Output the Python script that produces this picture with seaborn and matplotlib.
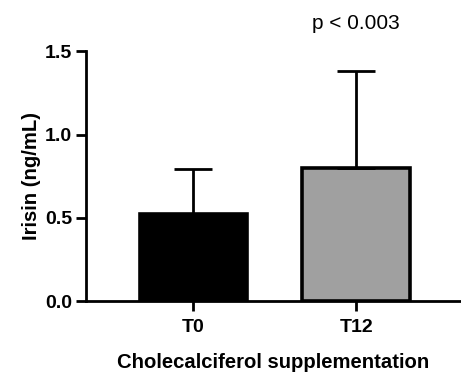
import matplotlib
matplotlib.use("Agg")

import matplotlib.pyplot as plt
import seaborn as sns
import numpy as np
import pandas as pd

# data
groups = ["T0", "T12"]
means = [0.52, 0.80]
sd_upper = [0.27, 0.58]
bar_colors = ["#000000", "#a0a0a0"]
p_label = "p < 0.003"

sns.set_theme(style="white")
plt.rcParams["font.family"] = ["Liberation Sans", "DejaVu Sans"]
plt.rcParams["text.color"] = "black"
plt.rcParams["axes.labelcolor"] = "black"
plt.rcParams["xtick.color"] = "black"
plt.rcParams["ytick.color"] = "black"

df = pd.DataFrame({"group": groups, "irisin": means})

fig = plt.figure(figsize=(4.61, 3.74), dpi=100)
ax = fig.add_axes([0.1866, 0.195, 0.8134, 0.668])

sns.barplot(data=df, x="group", y="irisin", hue="group", palette=bar_colors,
            width=0.66, edgecolor="black", linewidth=2.6, legend=False, ax=ax)

x = np.arange(len(groups))
ax.errorbar(x, means, yerr=[np.zeros(len(means)), sd_upper], fmt="none",
            ecolor="black", elinewidth=2, capsize=13.5, capthick=2, zorder=1)

ax.set_xlim(-0.66, 1.645)
ax.set_ylim(0, 1.5)
ax.set_yticks([0.0, 0.5, 1.0, 1.5])
ax.set_yticklabels(["0.0", "0.5", "1.0", "1.5"])

for side in ["top", "right"]:
    ax.spines[side].set_visible(False)
for side in ["left", "bottom"]:
    ax.spines[side].set_linewidth(2)
    ax.spines[side].set_color("black")

ax.tick_params(axis="both", direction="out", length=7, width=2, color="black",
               labelsize=14, pad=3, bottom=True, left=True)
ax.tick_params(axis="x", pad=6)
for lbl in ax.get_xticklabels() + ax.get_yticklabels():
    lbl.set_fontweight("bold")

ax.set_xlabel("Cholecalciferol supplementation", fontsize=14.6, fontweight="bold",
              labelpad=12)
ax.set_ylabel("Irisin (ng/mL)", fontsize=14.6, fontweight="bold", labelpad=3)

ax.text(1.0, 1.665, p_label, ha="center", va="center", fontsize=15, clip_on=False)

fig.savefig("out.png", dpi=100)
